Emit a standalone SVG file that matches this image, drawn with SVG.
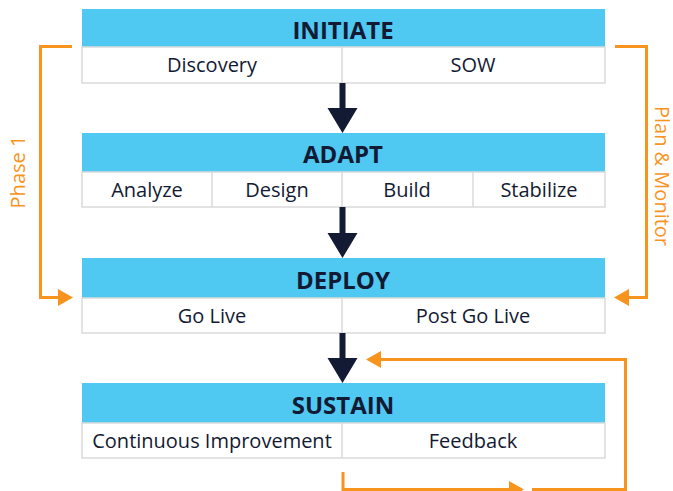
<svg xmlns="http://www.w3.org/2000/svg" width="673" height="491" viewBox="0 0 673 491">
<defs>
<style>
.hdr{fill:#4FC8F2;}
.sub{fill:#FFFFFF;stroke:#DADADA;stroke-width:1.5;}
.div{stroke:#DADADA;stroke-width:1.5;}
.ht{font-family:"Open Sans","Lato",sans-serif;font-weight:700;font-size:24px;fill:#131A33;text-anchor:middle;}
.st{font-family:"Open Sans","Lato",sans-serif;font-size:20px;fill:#131A33;text-anchor:middle;}
.ot{font-family:"Open Sans","Lato",sans-serif;font-size:20px;fill:#F7941D;text-anchor:middle;}
.ol{fill:none;stroke:#F7941D;stroke-width:3;}
.oh{fill:#F7941D;}
.da{fill:#131A33;}
</style>
</defs>
<g id="initiate">
<rect class="hdr" x="82" y="9" width="523" height="38"/>
<rect class="sub" x="82" y="47" width="523" height="36"/>
<line class="div" x1="342" y1="47" x2="342" y2="83"/>
<text class="ht" x="343" y="38.5">INITIATE</text>
<text class="st" x="212" y="72">Discovery</text>
<text class="st" x="473" y="72">SOW</text>
</g>
<g id="adapt">
<rect class="hdr" x="82" y="133" width="523" height="39"/>
<rect class="sub" x="82" y="172" width="523" height="35"/>
<line class="div" x1="212" y1="172" x2="212" y2="207"/>
<line class="div" x1="342" y1="172" x2="342" y2="207"/>
<line class="div" x1="473" y1="172" x2="473" y2="207"/>
<text class="ht" x="343" y="163">ADAPT</text>
<text class="st" x="147" y="197">Analyze</text>
<text class="st" x="277" y="197">Design</text>
<text class="st" x="407" y="197">Build</text>
<text class="st" x="539" y="197">Stabilize</text>
</g>
<g id="deploy">
<rect class="hdr" x="82" y="258" width="523" height="40"/>
<rect class="sub" x="82" y="298" width="523" height="35"/>
<line class="div" x1="342" y1="298" x2="342" y2="333"/>
<text class="ht" x="343" y="288.5">DEPLOY</text>
<text class="st" x="212" y="323">Go Live</text>
<text class="st" x="473" y="323">Post Go Live</text>
</g>
<g id="sustain">
<rect class="hdr" x="82" y="383" width="523" height="40"/>
<rect class="sub" x="82" y="423" width="523" height="35"/>
<line class="div" x1="342" y1="423" x2="342" y2="458"/>
<text class="ht" x="343" y="413.5">SUSTAIN</text>
<text class="st" x="212" y="448">Continuous Improvement</text>
<text class="st" x="473" y="448">Feedback</text>
</g>
<g id="labels">
<text class="ot" transform="translate(25,172) rotate(-90)">Phase 1</text>
<text class="ot" transform="translate(655,176) rotate(90)">Plan &amp; Monitor</text>
</g>
<g id="connectors">
<polygon class="da" points="339.5,83 345.5,83 345.5,108 357.5,108 342.5,133 327.5,108 339.5,108"/>
<polygon class="da" points="339.5,207 345.5,207 345.5,233 357.5,233 342.5,258 327.5,233 339.5,233"/>
<polygon class="da" points="339.5,333 345.5,333 345.5,358 357.5,358 342.5,383 327.5,358 339.5,358"/>
<polyline class="ol" points="72,46.5 40.5,46.5 40.5,297.5 60,297.5"/>
<polygon class="oh" points="73,297.5 58,289 58,306"/>
<polyline class="ol" points="615,46.5 646.5,46.5 646.5,297.5 627,297.5"/>
<polygon class="oh" points="614,297.5 629,289 629,306"/>
<polyline class="ol" points="343,472 343,489.5 510,489.5"/>
<polygon class="oh" points="524,489.5 509,481 509,498"/>
<polyline class="ol" points="532,489.5 625.5,489.5 625.5,359.5 380,359.5"/>
<polygon class="oh" points="366,359.5 381,351 381,368"/>
</g>
</svg>
